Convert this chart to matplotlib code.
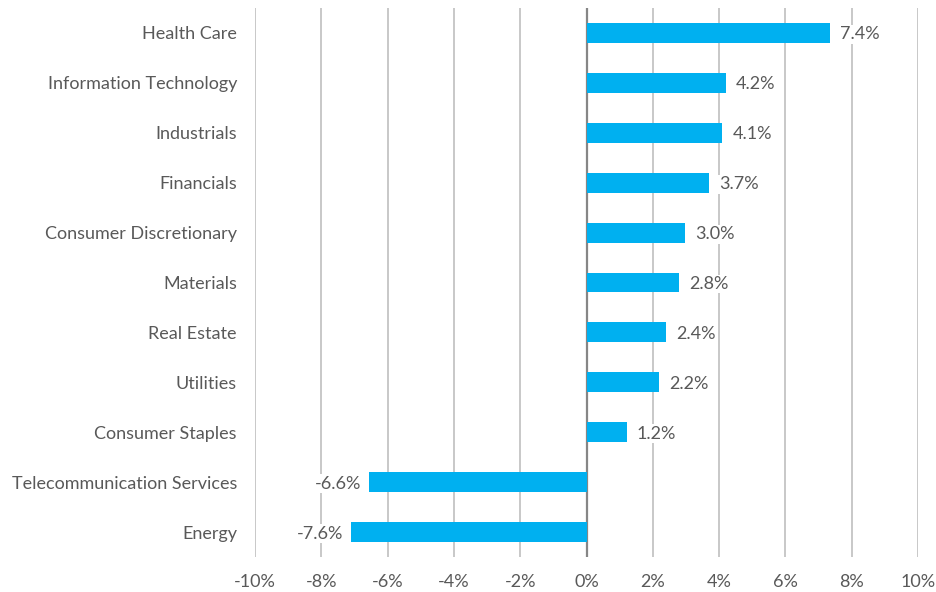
import matplotlib.pyplot as plt
from matplotlib.ticker import FuncFormatter

plt.rcParams['font.family'] = ['Lato', 'DejaVu Sans']

sectors = ["Health Care", "Information Technology", "Industrials", "Financials",
           "Consumer Discretionary", "Materials", "Real Estate", "Utilities",
           "Consumer Staples", "Telecommunication Services", "Energy"]
# bar lengths as drawn (%), and the printed data labels
bar_values = [7.35, 4.2, 4.1, 3.7, 2.97, 2.8, 2.4, 2.2, 1.22, -6.55, -7.1]
label_texts = ["7.4%", "4.2%", "4.1%", "3.7%", "3.0%", "2.8%", "2.4%", "2.2%",
               "1.2%", "-6.6%", "-7.6%"]
x_ticks = [-10, -8, -6, -4, -2, 0, 2, 4, 6, 8, 10]

text_color = "#595959"
bar_color = "#00b0f0"

fig = plt.figure(figsize=(9.36, 5.92), dpi=100)
ax = fig.add_axes([255/936, 1 - 557/592, (918 - 255)/936, (557 - 8)/592])

y = list(range(len(sectors)))
ax.barh(y, bar_values, height=0.4, color=bar_color, zorder=3)

for yi, v, t in zip(y, bar_values, label_texts):
    if v >= 0:
        ax.text(v + 0.3, yi + 0.03, t, ha="left", va="center", fontsize=13, color=text_color,
                zorder=4, bbox=dict(facecolor="white", edgecolor="none", pad=1))
    else:
        ax.text(v - 0.25, yi + 0.03, t, ha="right", va="center", fontsize=13, color=text_color,
                zorder=4, bbox=dict(facecolor="white", edgecolor="none", pad=1))

ax.set_xlim(-10, 10)
ax.set_ylim(len(sectors) - 0.5, -0.5)
ax.set_xticks(x_ticks)
ax.xaxis.set_major_formatter(FuncFormatter(lambda v, p: f"{v:.0f}%"))
ax.set_yticks(y)
ax.set_yticklabels(sectors)

for xv in x_ticks:
    if xv == 0:
        ax.axvline(xv, color="#868686", lw=1.6, zorder=2)
    else:
        ax.axvline(xv, color="#bfbfbf", lw=1.2, zorder=1)

for s in ax.spines.values():
    s.set_visible(False)
ax.tick_params(axis="both", length=0, labelsize=13, colors=text_color)
ax.tick_params(axis="y", pad=13)
ax.tick_params(axis="x", pad=12)

fig.savefig("out.png", dpi=100)
